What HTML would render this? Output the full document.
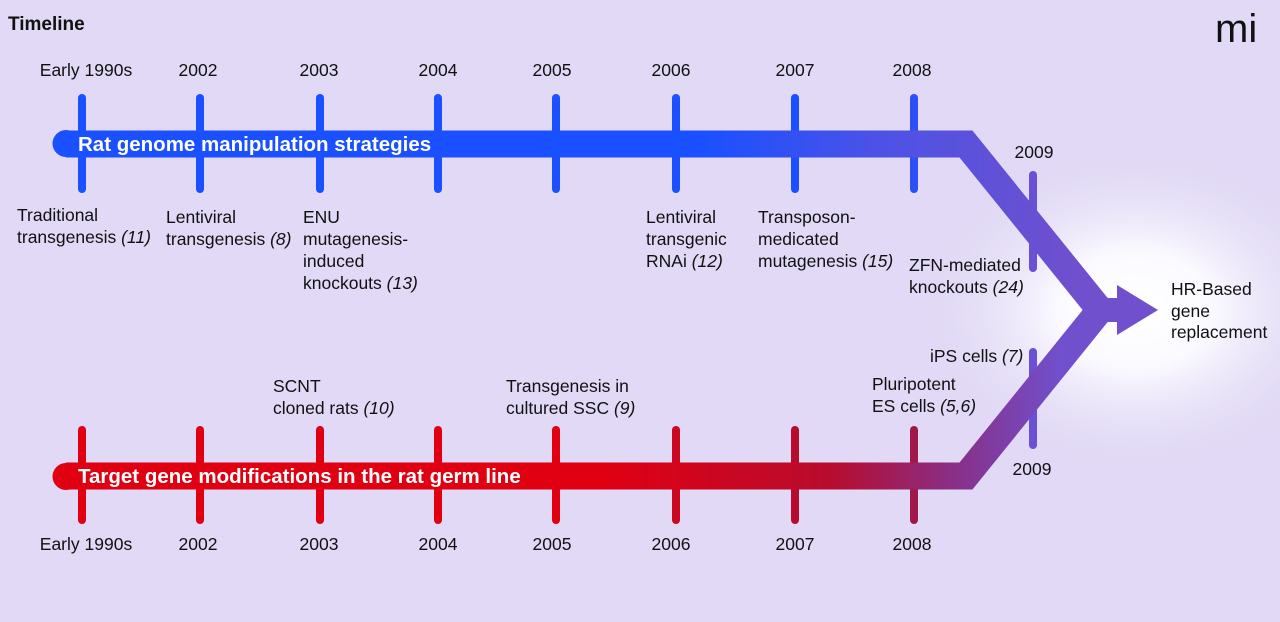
<!DOCTYPE html>
<html><head><meta charset="utf-8"><style>
body{margin:0;width:1280px;height:622px;overflow:hidden;background:#e1d9f5;font-family:"Liberation Sans",sans-serif}
svg{display:block}
text{font-family:"Liberation Sans",sans-serif;font-size:17.5px;fill:#111}
.i{font-style:italic}
.w{fill:#fff;font-weight:bold;font-size:20.5px}
</style></head><body>
<svg width="1280" height="622" viewBox="0 0 1280 622">
<defs>
<radialGradient id="glow" cx="1135" cy="310" r="220" gradientUnits="userSpaceOnUse" gradientTransform="translate(1135 310) scale(1 0.75) translate(-1135 -310)">
<stop offset="0" stop-color="#fff"/><stop offset="0.35" stop-color="#fbfaff"/><stop offset="1" stop-color="#e1d9f5" stop-opacity="0"/></radialGradient>
<linearGradient id="gb" x1="700" y1="0" x2="1080" y2="0" gradientUnits="userSpaceOnUse">
<stop offset="0" stop-color="#1a50ff"/><stop offset="0.45" stop-color="#4a52e8"/><stop offset="1" stop-color="#7050cc"/></linearGradient>
<linearGradient id="gr" x1="600" y1="0" x2="1060" y2="0" gradientUnits="userSpaceOnUse">
<stop offset="0" stop-color="#e00012"/><stop offset="0.5" stop-color="#b80c2e"/><stop offset="0.75" stop-color="#8c2c80"/><stop offset="1" stop-color="#7050cc"/></linearGradient>
</defs>
<rect width="1280" height="622" fill="#e1d9f5"/>
<rect width="1280" height="622" fill="url(#glow)"/>
<text x="8" y="30" style="font-weight:bold;font-size:19px">Timeline</text>
<text x="1215" y="42" style="font-size:40px;font-family:'Liberation Sans',sans-serif">mi</text>
<g stroke="#1a50ff" stroke-width="8" stroke-linecap="round">
<line x1="82" y1="98" x2="82" y2="189"/><line x1="200" y1="98" x2="200" y2="189"/><line x1="320" y1="98" x2="320" y2="189"/><line x1="438" y1="98" x2="438" y2="189"/><line x1="556" y1="98" x2="556" y2="189"/><line x1="676" y1="98" x2="676" y2="189"/><line x1="795" y1="98" x2="795" y2="189"/><line x1="914" y1="98" x2="914" y2="189" stroke="#2c50f5"/>
</g>
<g stroke="#e00012" stroke-width="8" stroke-linecap="round">
<line x1="82" y1="430" x2="82" y2="520"/><line x1="200" y1="430" x2="200" y2="520"/><line x1="320" y1="430" x2="320" y2="520"/><line x1="438" y1="430" x2="438" y2="520"/><line x1="556" y1="430" x2="556" y2="520"/><line x1="676" y1="430" x2="676" y2="520" stroke="#cc0820"/><line x1="795" y1="430" x2="795" y2="520" stroke="#b80c2e"/><line x1="914" y1="430" x2="914" y2="520" stroke="#a01848"/>
</g>
<g stroke="#6a50d4" stroke-width="8" stroke-linecap="round">
<line x1="1033" y1="175" x2="1033" y2="268"/><line x1="1033" y1="352" x2="1033" y2="445"/>
</g>
<polyline points="66,144 966,144 1100,310" fill="none" stroke="url(#gb)" stroke-width="27" stroke-linejoin="miter"/>
<polyline points="66,476 966,476 1100,310" fill="none" stroke="url(#gr)" stroke-width="27" stroke-linejoin="miter"/>
<circle cx="66" cy="143.5" r="13.5" fill="#1a50ff"/><circle cx="66" cy="476.5" r="13.5" fill="#e00012"/>
<polygon points="1085,298 1117,298 1117,285 1158,310 1117,335 1117,322 1085,322" fill="#7050cc"/>
<polygon points="1080,280 1100,310 1080,340 1095,310" fill="#7050cc"/>
<text class="w" x="78" y="151">Rat genome manipulation strategies</text>
<text class="w" x="78" y="483">Target gene modifications in the rat germ line</text>
<g text-anchor="middle">
<text x="86" y="76">Early 1990s</text><text x="198" y="76">2002</text><text x="319" y="76">2003</text><text x="438" y="76">2004</text><text x="552" y="76">2005</text><text x="671" y="76">2006</text><text x="795" y="76">2007</text><text x="912" y="76">2008</text>
<text x="1034" y="158">2009</text><text x="1032" y="475">2009</text>
<text x="86" y="550">Early 1990s</text><text x="198" y="550">2002</text><text x="319" y="550">2003</text><text x="438" y="550">2004</text><text x="552" y="550">2005</text><text x="671" y="550">2006</text><text x="795" y="550">2007</text><text x="912" y="550">2008</text>
</g>
<text x="17" y="221">Traditional</text><text x="17" y="243">transgenesis <tspan class="i">(11)</tspan></text>
<text x="166" y="223">Lentiviral</text><text x="166" y="245">transgenesis <tspan class="i">(8)</tspan></text>
<text x="303" y="223">ENU</text><text x="303" y="245">mutagenesis-</text><text x="303" y="267">induced</text><text x="303" y="289">knockouts <tspan class="i">(13)</tspan></text>
<text x="646" y="223">Lentiviral</text><text x="646" y="245">transgenic</text><text x="646" y="267">RNAi <tspan class="i">(12)</tspan></text>
<text x="758" y="223">Transposon-</text><text x="758" y="245">medicated</text><text x="758" y="267">mutagenesis <tspan class="i">(15)</tspan></text>
<text x="909" y="271">ZFN-mediated</text><text x="909" y="293">knockouts <tspan class="i">(24)</tspan></text>
<text x="1171" y="295">HR-Based</text><text x="1171" y="317">gene</text><text x="1171" y="338">replacement</text>
<text x="930" y="362">iPS cells <tspan class="i">(7)</tspan></text>
<text x="872" y="390">Pluripotent</text><text x="872" y="412">ES cells <tspan class="i">(5,6)</tspan></text>
<text x="273" y="392">SCNT</text><text x="273" y="414">cloned rats <tspan class="i">(10)</tspan></text>
<text x="506" y="392">Transgenesis in</text><text x="506" y="414">cultured SSC <tspan class="i">(9)</tspan></text>
</svg>
</body></html>
